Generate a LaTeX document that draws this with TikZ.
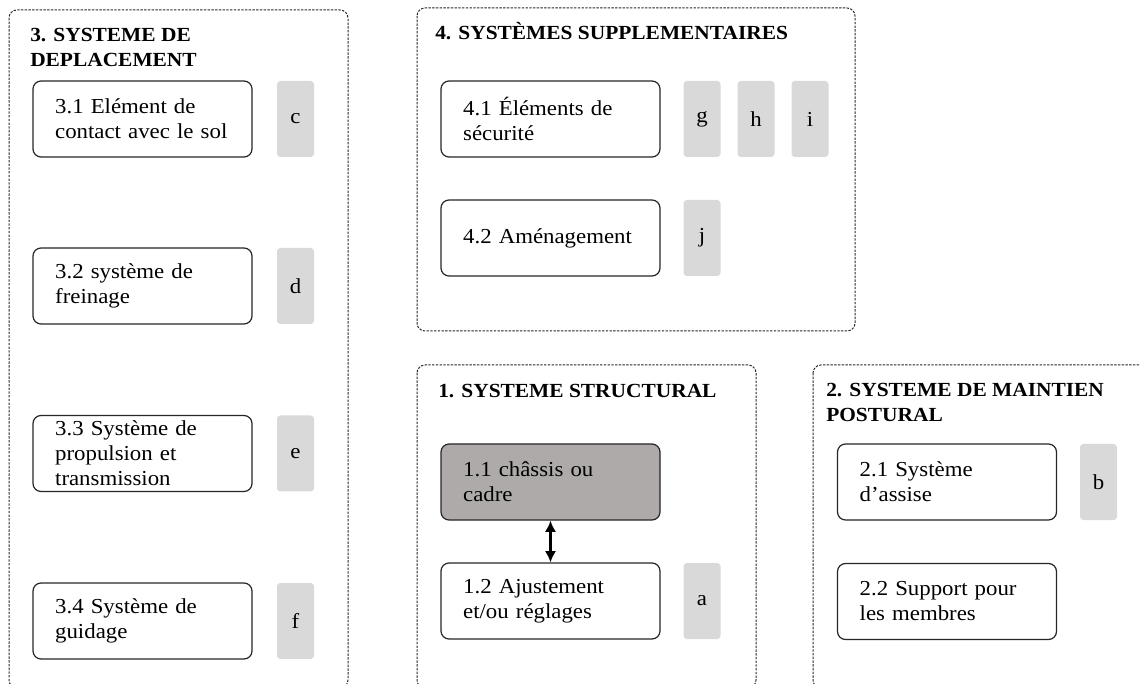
\documentclass[tikz,border=0pt]{standalone}
\usepackage{fontspec}
\setmainfont[FakeStretch=1.07]{Liberation Serif}
\usetikzlibrary{arrows.meta}
\definecolor{labgray}{HTML}{D9D9D9}
\definecolor{chassis}{HTML}{AEAAAA}
\definecolor{framegray}{HTML}{2A2A2A}
\tikzset{
  frame/.style={draw=framegray, line width=0.75pt, dash pattern=on 1.8pt off 1pt, rounded corners=6pt},
  itembox/.style={draw=black!85, line width=0.9pt, rounded corners=6pt, fill=white,
    minimum width=164.25pt, minimum height=57pt, text width=131pt, align=left, inner sep=0pt,
    font=\fontsize{16}{18.75}\selectfont},
  labbox/.style={fill=labgray, rounded corners=2.5pt, minimum width=27.75pt, minimum height=57pt,
    inner sep=0pt, font=\fontsize{16}{18.75}\selectfont},
  titletext/.style={anchor=base west, align=left, inner sep=0pt,
    font=\fontsize{15}{18.75}\selectfont\bfseries},
  link/.style={line width=1.8pt, {Latex[length=8.5pt,width=8.5pt]}-{Latex[length=8.5pt,width=8.5pt]}}
}
\begin{document}
\begin{tikzpicture}[x=0.75pt, y=-0.75pt]
\useasboundingbox (0,0) rectangle (1140,684);
\begin{scope}
\clip (0,0) rectangle (1140,684);
% frames
\draw[frame] (9,10) rectangle (348,688);
\draw[frame] (417,8) rectangle (855,331);
\draw[frame] (417,365) rectangle (756,688);
\draw[frame] (813,365) rectangle (1170,688);
\end{scope}
% titles
\node[titletext] (t3) at (30,67) {3. SYSTEME DE\\DEPLACEMENT};
\node[titletext] (t4) at (435,40) {4. SYSTÈMES SUPPLEMENTAIRES};
\node[titletext] (t1) at (438,398) {1. SYSTEME STRUCTURAL};
\node[titletext] (t2) at (826,422) {2. SYSTEME DE MAINTIEN\\POSTURAL};
% frame 3
\node[itembox] (b31) at (142.5,119) {3.1 Elément de\\contact avec le sol};
\node[labbox] (c) at (295.5,119) {c};
\node[itembox] (b32) at (142.5,286) {3.2 système de\\freinage};
\node[labbox] (d) at (295.5,286) {d};
\node[itembox] (b33) at (142.5,453.5) {3.3 Système de\\propulsion et\\transmission};
\node[labbox] (e) at (295.5,453.5) {e};
\node[itembox] (b34) at (142.5,621) {3.4 Système de\\guidage};
\node[labbox] (f) at (295.5,621) {f};
% frame 4
\node[itembox] (b41) at (550.5,119) {4.1 Éléments de\\sécurité};
\node[labbox] (g) at (702,119) {g};
\node[labbox] (h) at (756,119) {h};
\node[labbox] (i) at (810,119) {i};
\node[itembox] (b42) at (550.5,238) {4.2 Aménagement};
\node[labbox] (j) at (702,238) {j};
% frame 1
\node[itembox, fill=chassis] (b11) at (550.5,482) {1.1 châssis ou\\cadre};
\node[itembox] (b12) at (550.5,601) {1.2 Ajustement\\et/ou réglages};
\node[labbox] (a) at (702,601) {a};
\draw[link] (b11.south) -- (b12.north);
% frame 2
\node[itembox] (b21) at (947,482) {2.1 Système\\d’assise};
\node[labbox] (b) at (1098.5,482) {b};
\node[itembox] (b22) at (947,601.5) {2.2 Support pour\\les membres};
\end{tikzpicture}
\end{document}
